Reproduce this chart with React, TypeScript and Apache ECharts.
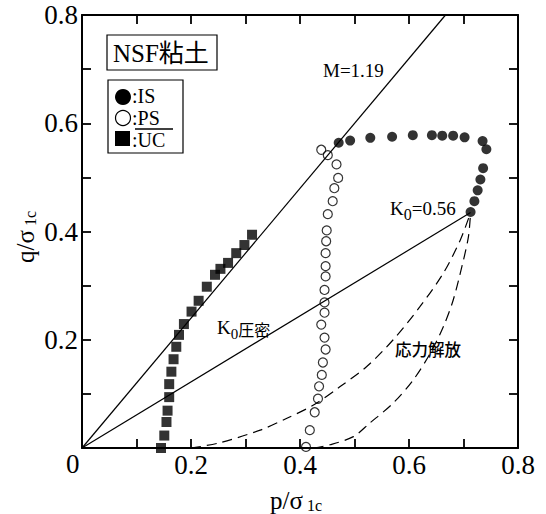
import React, { useEffect, useRef } from "react";
import * as echarts from "echarts";

// IS (filled circles)
const IS_P = [0.471, 0.492, 0.529, 0.569, 0.607, 0.642, 0.661, 0.681, 0.702, 0.735, 0.742, 0.736, 0.731, 0.726, 0.720, 0.713];
const IS_Q = [0.564, 0.568, 0.573, 0.575, 0.578, 0.578, 0.577, 0.577, 0.574, 0.567, 0.552, 0.517, 0.496, 0.476, 0.456, 0.436];
// PS (open circles)
const PS_P = [0.439, 0.451, 0.467, 0.470, 0.463, 0.460, 0.451, 0.449, 0.448, 0.447, 0.447, 0.447, 0.445, 0.445, 0.445, 0.439, 0.445, 0.447, 0.442, 0.440, 0.435, 0.433, 0.427, 0.418, 0.411];
const PS_Q = [0.551, 0.541, 0.524, 0.499, 0.480, 0.456, 0.432, 0.402, 0.382, 0.360, 0.336, 0.317, 0.292, 0.269, 0.250, 0.228, 0.204, 0.182, 0.158, 0.135, 0.114, 0.091, 0.066, 0.033, 0.002];
// UC (filled squares)
const UC_P = [0.145, 0.151, 0.155, 0.157, 0.160, 0.160, 0.164, 0.168, 0.173, 0.178, 0.187, 0.201, 0.214, 0.229, 0.244, 0.254, 0.268, 0.283, 0.298, 0.312];
const UC_Q = [0.000, 0.023, 0.048, 0.069, 0.094, 0.118, 0.141, 0.164, 0.187, 0.209, 0.229, 0.252, 0.272, 0.298, 0.320, 0.331, 0.342, 0.360, 0.375, 0.394];
// Critical state line M=1.19
const M_P = [0, 0.667];
const M_Q = [0, 0.8];
// K0 consolidation line
const K0_P = [0, 0.713];
const K0_Q = [0, 0.435];
// Stress release curves (dashed)
const SR1_P = [0.20, 0.25, 0.327, 0.376, 0.424, 0.473, 0.522, 0.571, 0.620, 0.663, 0.694, 0.713];
const SR1_Q = [0.0, 0.009, 0.033, 0.055, 0.079, 0.113, 0.150, 0.200, 0.261, 0.323, 0.384, 0.435];
const SR2_P = [0.425, 0.455, 0.498, 0.528, 0.571, 0.608, 0.639, 0.663, 0.681, 0.697, 0.709, 0.713];
const SR2_Q = [0.0, 0.006, 0.021, 0.046, 0.083, 0.126, 0.175, 0.224, 0.273, 0.335, 0.390, 0.435];

const AX_MIN = 0;
const AX_MAX = 0.8;
const TICK_LABELS = ["0.2", "0.4", "0.6", "0.8"];

const SERIF = "'Liberation Serif', 'Times New Roman', 'Noto Sans CJK JP', serif";
const CJK = "'Noto Sans CJK JP', sans-serif";

const zip = (a: number[], b: number[]) => a.map((v, i) => [v, b[i]]);

const fmt = (v: number) => {
  const r = Math.round(v * 10);
  if (r === 0 || r % 2 !== 0) return "";
  const s = (r / 10).toFixed(1);
  return TICK_LABELS.includes(s) ? s : "";
};

export default function App() {
  const ref = useRef<HTMLDivElement>(null);
  useEffect(() => {
    document.body.style.margin = "0";
    const chart = echarts.init(ref.current!, null, { renderer: "svg" });
    const mkLine = () => ({ show: true, onZero: false, lineStyle: { color: "#000", width: 2 } });
    const mkTick = () => ({ show: true, inside: true, length: 9, lineStyle: { color: "#000", width: 1.8 } });
    const lbl = { color: "#000", fontFamily: SERIF, fontSize: 27, formatter: fmt };
    const legendText = (y: number, t: string) => ({
      type: "text", x: 132, y,
      style: { text: t, font: `20px ${SERIF}`, lineHeight: 18, fill: "#000", verticalAlign: "middle" },
      z: 11,
    });
    const option: any = {
      animation: false,
      backgroundColor: "#fff",
      grid: { show: false, left: 82, right: 28, top: 15, bottom: 66 },
      xAxis: [
        { type: "value", min: AX_MIN, max: AX_MAX, interval: 0.1, axisLine: mkLine(), axisTick: mkTick(), splitLine: { show: false }, axisLabel: { ...lbl, margin: 3 } },
        { type: "value", position: "top", min: AX_MIN, max: AX_MAX, interval: 0.1, axisLine: mkLine(), axisTick: mkTick(), splitLine: { show: false }, axisLabel: { show: false } },
      ],
      yAxis: [
        { type: "value", min: AX_MIN, max: AX_MAX, interval: 0.1, axisLine: mkLine(), axisTick: mkTick(), splitLine: { show: false }, axisLabel: { ...lbl, margin: 4 } },
        { type: "value", position: "right", min: AX_MIN, max: AX_MAX, interval: 0.1, axisLine: mkLine(), axisTick: mkTick(), splitLine: { show: false }, axisLabel: { show: false } },
      ],
      series: [
        { type: "line", data: zip(M_P, M_Q), symbol: "none", lineStyle: { color: "#000", width: 1.2 }, z: 2 },
        { type: "line", data: zip(K0_P, K0_Q), symbol: "none", lineStyle: { color: "#000", width: 1.2 }, z: 2 },
        { type: "line", data: zip(SR1_P, SR1_Q), symbol: "none", smooth: 0.3, lineStyle: { color: "#000", width: 1.2, type: [10, 6] }, z: 2 },
        { type: "line", data: zip(SR2_P, SR2_Q), symbol: "none", smooth: 0.3, lineStyle: { color: "#000", width: 1.2, type: [10, 6] }, z: 2 },
        { type: "scatter", data: zip(IS_P, IS_Q), symbol: "circle", symbolSize: 10, itemStyle: { color: "#000" }, z: 3 },
        { type: "scatter", data: zip(PS_P, PS_Q), symbol: "circle", symbolSize: 9, itemStyle: { color: "rgba(255,255,255,0)", borderColor: "#000", borderWidth: 1.2 }, z: 3 },
        { type: "scatter", data: zip(UC_P, UC_Q), symbol: "rect", symbolSize: 10, itemStyle: { color: "#000" }, z: 3 },
      ],
      graphic: [
        // zero label at origin
        { type: "text", left: 66, top: 450, style: { text: "0", font: `27px ${SERIF}`, fill: "#000" } },
        // x axis name
        {
          type: "text", x: 270, y: 500,
          style: {
            text: "{a|p/σ}{b| 1c}", verticalAlign: "middle", fill: "#000",
            rich: {
              a: { fontFamily: SERIF, fontSize: 25, verticalAlign: "bottom", lineHeight: 26 },
              b: { fontFamily: SERIF, fontSize: 16, verticalAlign: "bottom", lineHeight: 26 },
            },
          },
        },
        // y axis name (rotated)
        {
          type: "text", x: 25, y: 263, rotation: Math.PI / 2,
          style: {
            text: "{a|q/σ}{b| 1c}", verticalAlign: "middle", fill: "#000",
            rich: {
              a: { fontFamily: SERIF, fontSize: 25, verticalAlign: "bottom", lineHeight: 26 },
              b: { fontFamily: SERIF, fontSize: 16, verticalAlign: "bottom", lineHeight: 26 },
            },
          },
        },
        // title box
        { type: "rect", shape: { x: 107, y: 35, width: 110, height: 35 }, style: { fill: "#fff", stroke: "#000", lineWidth: 1.2 }, z: 10 },
        { type: "text", x: 113, y: 53, style: { text: "NSF粘土", font: `25px ${SERIF}`, fill: "#000", verticalAlign: "middle" }, z: 11 },
        // legend box
        { type: "rect", shape: { x: 108, y: 80, width: 75, height: 73 }, style: { fill: "#fff", stroke: "#000", lineWidth: 1.2 }, z: 10 },
        { type: "circle", shape: { cx: 123, cy: 97, r: 8 }, style: { fill: "#000" }, z: 11 },
        { type: "circle", shape: { cx: 123, cy: 118, r: 7.5 }, style: { fill: "#fff", stroke: "#000", lineWidth: 1.2 }, z: 11 },
        { type: "rect", shape: { x: 115, y: 131, width: 15, height: 15 }, style: { fill: "#000" }, z: 11 },
        legendText(96, ":IS"),
        legendText(118, ":PS"),
        { type: "line", shape: { x1: 135, y1: 129, x2: 173, y2: 129 }, style: { stroke: "#000", lineWidth: 1.5 }, z: 11 },
        legendText(140, ":UC"),
        // annotations
        { type: "text", x: 323, y: 70, style: { text: "M=1.19", font: `19px ${SERIF}`, fill: "#000", verticalAlign: "middle" } },
        {
          type: "text", x: 390, y: 208,
          style: {
            text: "{a|K}{s|0}{a|=0.56}", verticalAlign: "middle", fill: "#000",
            rich: {
              a: { fontFamily: SERIF, fontSize: 19, verticalAlign: "bottom", lineHeight: 20 },
              s: { fontFamily: SERIF, fontSize: 16, verticalAlign: "bottom", lineHeight: 14, padding: [0, 0, -4, 0] },
            },
          },
        },
        {
          type: "text", x: 217, y: 327,
          style: {
            text: "{a|K}{s|0}{c|圧密}", verticalAlign: "middle", fill: "#000",
            rich: {
              a: { fontFamily: SERIF, fontSize: 19, verticalAlign: "bottom", lineHeight: 20 },
              s: { fontFamily: SERIF, fontSize: 15, verticalAlign: "bottom", lineHeight: 14, padding: [0, 0, -4, 0] },
              c: { fontFamily: CJK, fontSize: 16, verticalAlign: "bottom", lineHeight: 20 },
            },
          },
        },
        { type: "text", x: 395, y: 349, style: { text: "応力解放", font: `500 16.5px ${CJK}`, fill: "#000", verticalAlign: "middle" } },
      ],
    };
    chart.setOption(option);
    return () => chart.dispose();
  }, []);
  return <div ref={ref} style={{ width: 546, height: 514 }} />;
}
